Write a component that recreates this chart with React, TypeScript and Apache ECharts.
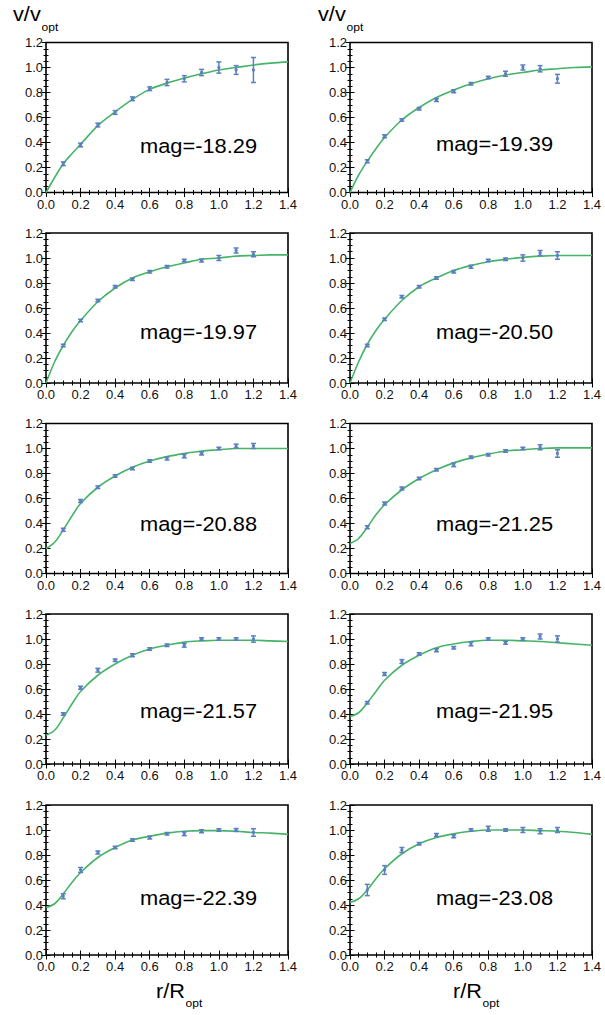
import React, { useEffect, useRef } from "react";
import * as echarts from "echarts";

const MAGS = ["-18.29", "-19.39", "-19.97", "-20.50", "-20.88", "-21.25", "-21.57", "-21.95", "-22.39", "-23.08"];
const X_PTS = [0.1, 0.2, 0.3, 0.4, 0.5, 0.6, 0.7, 0.8, 0.9, 1.0, 1.1, 1.2];
const CURVE_X = [0, 0.05, 0.1, 0.15, 0.2, 0.3, 0.4, 0.5, 0.6, 0.7, 0.8, 0.9, 1.0, 1.1, 1.2, 1.3, 1.4];
const X_TICKS = ["0.0", "0.2", "0.4", "0.6", "0.8", "1.0", "1.2", "1.4"];
const Y_TICKS = ["0.0", "0.2", "0.4", "0.6", "0.8", "1.0", "1.2"];

const V1 = [0.23, 0.38, 0.54, 0.64, 0.75, 0.83, 0.88, 0.91, 0.96, 1.0, 0.98, 0.98];
const E1 = [0.015, 0.015, 0.015, 0.015, 0.015, 0.015, 0.025, 0.025, 0.025, 0.045, 0.035, 0.1];
const V2 = [0.25, 0.45, 0.58, 0.67, 0.74, 0.81, 0.87, 0.92, 0.95, 1.0, 0.99, 0.91];
const E2 = [0.012, 0.012, 0.01, 0.01, 0.012, 0.012, 0.01, 0.01, 0.02, 0.02, 0.025, 0.035];
const V3 = [0.3, 0.5, 0.66, 0.77, 0.83, 0.89, 0.93, 0.98, 0.98, 1.0, 1.06, 1.03];
const E3 = [0.01, 0.01, 0.01, 0.01, 0.01, 0.01, 0.01, 0.01, 0.012, 0.02, 0.02, 0.02];
const V4 = [0.3, 0.51, 0.69, 0.77, 0.84, 0.89, 0.93, 0.98, 0.99, 1.0, 1.04, 1.02];
const E4 = [0.01, 0.01, 0.01, 0.01, 0.01, 0.01, 0.012, 0.01, 0.01, 0.025, 0.02, 0.03];
const V5 = [0.35, 0.58, 0.69, 0.78, 0.84, 0.9, 0.92, 0.94, 0.96, 1.0, 1.02, 1.02];
const E5 = [0.012, 0.012, 0.01, 0.01, 0.01, 0.01, 0.012, 0.015, 0.012, 0.01, 0.015, 0.02];
const V6 = [0.37, 0.56, 0.68, 0.76, 0.83, 0.87, 0.93, 0.95, 0.98, 1.0, 1.01, 0.96];
const E6 = [0.012, 0.012, 0.012, 0.01, 0.01, 0.015, 0.01, 0.01, 0.01, 0.01, 0.02, 0.03];
const V7 = [0.4, 0.61, 0.75, 0.83, 0.87, 0.92, 0.95, 0.95, 1.0, 1.0, 1.0, 1.0];
const E7 = [0.01, 0.012, 0.015, 0.01, 0.012, 0.01, 0.01, 0.015, 0.01, 0.01, 0.01, 0.025];
const V8 = [0.49, 0.72, 0.82, 0.88, 0.91, 0.93, 0.96, 1.0, 0.97, 1.0, 1.02, 1.0];
const E8 = [0.01, 0.012, 0.015, 0.01, 0.012, 0.01, 0.015, 0.01, 0.012, 0.01, 0.02, 0.025];
const V9 = [0.47, 0.68, 0.82, 0.86, 0.92, 0.94, 0.97, 0.97, 0.99, 1.0, 1.0, 0.98];
const E9 = [0.02, 0.02, 0.012, 0.01, 0.01, 0.012, 0.01, 0.015, 0.012, 0.01, 0.012, 0.03];
const V10 = [0.52, 0.68, 0.84, 0.89, 0.96, 0.95, 1.0, 1.01, 1.0, 1.0, 0.99, 1.0];
const E10 = [0.045, 0.035, 0.02, 0.01, 0.012, 0.012, 0.01, 0.02, 0.01, 0.02, 0.02, 0.02];

const C1 = [0, 0.12, 0.23, 0.31, 0.385, 0.535, 0.645, 0.745, 0.825, 0.875, 0.915, 0.95, 0.98, 1.0, 1.02, 1.035, 1.045];
const C2 = [0, 0.14, 0.25, 0.35, 0.44, 0.58, 0.68, 0.76, 0.82, 0.87, 0.91, 0.94, 0.96, 0.98, 0.99, 1.0, 1.005];
const C3 = [0, 0.17, 0.3, 0.41, 0.5, 0.65, 0.76, 0.84, 0.89, 0.93, 0.96, 0.99, 1.0, 1.015, 1.02, 1.025, 1.025];
const C4 = [0, 0.17, 0.31, 0.42, 0.51, 0.66, 0.77, 0.84, 0.9, 0.94, 0.97, 0.99, 1.005, 1.015, 1.02, 1.02, 1.02];
const C5 = [0.2, 0.25, 0.35, 0.46, 0.56, 0.69, 0.78, 0.85, 0.9, 0.935, 0.96, 0.98, 0.99, 1.0, 1.0, 1.0, 1.0];
const C6 = [0.24, 0.28, 0.37, 0.47, 0.55, 0.67, 0.76, 0.83, 0.885, 0.925, 0.955, 0.98, 0.99, 1.0, 1.005, 1.005, 1.005];
const C7 = [0.23, 0.27, 0.37, 0.48, 0.58, 0.71, 0.8, 0.87, 0.92, 0.95, 0.975, 0.985, 0.99, 0.99, 0.99, 0.985, 0.98];
const C8 = [0.38, 0.41, 0.49, 0.58, 0.67, 0.79, 0.87, 0.93, 0.96, 0.98, 0.99, 0.99, 0.985, 0.98, 0.97, 0.96, 0.95];
const C9 = [0.38, 0.41, 0.49, 0.58, 0.66, 0.78, 0.86, 0.92, 0.95, 0.975, 0.99, 0.995, 0.995, 0.99, 0.98, 0.975, 0.965];
const C10 = [0.42, 0.45, 0.52, 0.61, 0.69, 0.81, 0.89, 0.94, 0.97, 0.99, 1.0, 1.0, 1.0, 0.995, 0.99, 0.98, 0.965];

const VALUES = [V1, V2, V3, V4, V5, V6, V7, V8, V9, V10];
const ERRORS = [E1, E2, E3, E4, E5, E6, E7, E8, E9, E10];
const CURVES = [C1, C2, C3, C4, C5, C6, C7, C8, C9, C10];

const ROW_TOPS = [42.5, 233, 423.5, 614, 805];
const COL_LEFTS = [46, 350];
const GRID_W = 242;
const GRID_H = 150;
const MAG_POS = [
  [140, 146], [436, 144], [140, 332], [436, 332], [140, 523.5],
  [436, 523.5], [140, 711], [436, 711], [140, 897.5], [436, 897.5],
];

const FONT = "'Liberation Sans', Arial, sans-serif";
const BLUE = "#5b7fbf";
const GREEN = "#45b467";

export default function App() {
  const ref = useRef<HTMLDivElement>(null);
  useEffect(() => {
    if (!ref.current) return;
    const chart = echarts.init(ref.current, null, { renderer: "svg" });
    const grids: any[] = [];
    const xAxes: any[] = [];
    const yAxes: any[] = [];
    const series: any[] = [];
    const graphic: any[] = [];

    const tickBase = {
      axisTick: { show: true, inside: true, length: 4.5, lineStyle: { color: "#000", width: 1 } },
      minorTick: { show: true, splitNumber: 4, length: 2.5, lineStyle: { color: "#000", width: 1 } },
      splitLine: { show: false },
      axisLine: { show: false },
    };

    for (let i = 0; i < 10; i++) {
      const row = Math.floor(i / 2);
      const col = i % 2;
      grids.push({
        left: COL_LEFTS[col], top: ROW_TOPS[row], width: GRID_W, height: GRID_H,
        show: true, borderColor: "#000", borderWidth: 1.6, backgroundColor: "transparent",
      });
      const xBase = {
        type: "value", gridIndex: i, min: 0, max: 1.4, interval: 0.2, ...tickBase,
      };
      const yBase = {
        type: "value", gridIndex: i, min: 0, max: 1.2, interval: 0.2, ...tickBase,
      };
      xAxes.push({
        ...xBase, position: "bottom",
        axisLabel: {
          show: true, margin: 5, fontSize: 13, color: "#111", fontFamily: FONT,
          formatter: (v: number) => X_TICKS[Math.round(v / 0.2)] ?? v.toFixed(1),
        },
      });
      xAxes.push({ ...xBase, position: "top", axisLabel: { show: false } });
      yAxes.push({
        ...yBase, position: "left",
        axisLabel: {
          show: true, margin: 3, fontSize: 13, color: "#111", fontFamily: FONT,
          formatter: (v: number) => Y_TICKS[Math.round(v / 0.2)] ?? v.toFixed(1),
        },
      });
      yAxes.push({ ...yBase, position: "right", axisLabel: { show: false } });

      series.push({
        type: "line", xAxisIndex: 2 * i, yAxisIndex: 2 * i,
        data: CURVE_X.map((x, k) => [x, CURVES[i][k]]),
        smooth: 0.35, showSymbol: false, symbol: "none", clip: true,
        lineStyle: { color: GREEN, width: 1.6 }, z: 3,
      });
      series.push({
        type: "custom", xAxisIndex: 2 * i, yAxisIndex: 2 * i,
        data: X_PTS.map((x, k) => [x, VALUES[i][k], ERRORS[i][k]]),
        z: 4,
        renderItem: (params: any, api: any) => {
          const x = api.value(0);
          const y = api.value(1);
          const e = api.value(2);
          const top = api.coord([x, y + e]);
          const bot = api.coord([x, y - e]);
          const c = api.coord([x, y]);
          const w = 2.5;
          const style = { stroke: BLUE, lineWidth: 1.5, fill: null };
          return {
            type: "group",
            children: [
              { type: "line", shape: { x1: top[0], y1: top[1], x2: bot[0], y2: bot[1] }, style },
              { type: "line", shape: { x1: top[0] - w, y1: top[1], x2: top[0] + w, y2: top[1] }, style },
              { type: "line", shape: { x1: bot[0] - w, y1: bot[1], x2: bot[0] + w, y2: bot[1] }, style },
              { type: "circle", shape: { cx: c[0], cy: c[1], r: 1.6 }, style: { fill: BLUE } },
            ],
          };
        },
      });

      graphic.push({
        type: "text", x: MAG_POS[i][0], y: MAG_POS[i][1], scaleX: 1.12,
        style: {
          text: "mag=" + MAGS[i], fontSize: 19.5, fontFamily: FONT, fill: "#000",
          align: "left", verticalAlign: "middle",
        },
      });
    }

    const labelLefts = [13, 318];
    const bottomLefts = [156, 453];
    for (let c = 0; c < 2; c++) {
      graphic.push({
        type: "text", x: labelLefts[c], y: 14, scaleX: 1.06,
        style: { text: "v/v", fontSize: 20.5, fontFamily: FONT, fill: "#000", align: "left", verticalAlign: "middle" },
      });
      graphic.push({
        type: "text", x: labelLefts[c] + 28.5, y: 27, scaleX: 1.05,
        style: { text: "opt", fontSize: 11.5, fontFamily: FONT, fill: "#000", align: "left", verticalAlign: "middle" },
      });
      graphic.push({
        type: "text", x: bottomLefts[c], y: 990.5, scaleX: 1.06,
        style: { text: "r/R", fontSize: 20.5, fontFamily: FONT, fill: "#000", align: "left", verticalAlign: "middle" },
      });
      graphic.push({
        type: "text", x: bottomLefts[c] + 29.5, y: 1003, scaleX: 1.05,
        style: { text: "opt", fontSize: 11.5, fontFamily: FONT, fill: "#000", align: "left", verticalAlign: "middle" },
      });
    }

    chart.setOption({
      animation: false,
      backgroundColor: "#fff",
      grid: grids,
      xAxis: xAxes,
      yAxis: yAxes,
      series,
      graphic,
    });
    return () => chart.dispose();
  }, []);

  return (
    <div
      ref={ref}
      style={{ position: "absolute", left: 0, top: 0, width: 605, height: 1015 }}
    />
  );
}
